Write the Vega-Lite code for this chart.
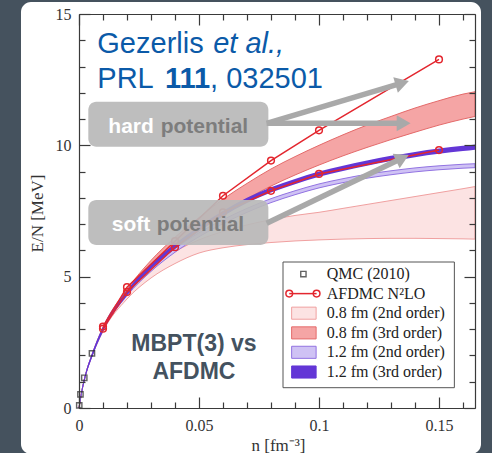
{
"$schema": "https://vega.github.io/schema/vega-lite/v6.json",
"width": 396, "height": 394,
"autosize": "none",
"padding": {"left": 79, "top": 14, "right": 17, "bottom": 45},
"background": "#45525e",
"config": {"view": {"stroke": null}, "axis": {"grid": false}},
"resolve": {"axis": {"x": "independent", "y": "independent"}},
"datasets": {
 "panel": [{"n1": -0.02417, "n2": 0.1675, "e1": 15.456, "e2": -1.75}],
 "b082": [
  {"n": 0, "lo": 0, "hi": 0}, {"n": 0.001, "lo": 0.55, "hi": 0.55}, {"n": 0.003, "lo": 1.33, "hi": 1.35},
  {"n": 0.005, "lo": 1.87, "hi": 1.9}, {"n": 0.01, "lo": 2.92, "hi": 3.0}, {"n": 0.02, "lo": 4.15, "hi": 4.35},
  {"n": 0.03, "lo": 4.95, "hi": 5.3}, {"n": 0.04, "lo": 5.5, "hi": 5.95}, {"n": 0.05, "lo": 5.9, "hi": 6.4},
  {"n": 0.06, "lo": 6.1, "hi": 6.72}, {"n": 0.07, "lo": 6.22, "hi": 6.97}, {"n": 0.08, "lo": 6.3, "hi": 7.17},
  {"n": 0.09, "lo": 6.36, "hi": 7.33}, {"n": 0.1, "lo": 6.4, "hi": 7.45}, {"n": 0.11, "lo": 6.43, "hi": 7.6},
  {"n": 0.12, "lo": 6.45, "hi": 7.75}, {"n": 0.13, "lo": 6.46, "hi": 7.9}, {"n": 0.14, "lo": 6.46, "hi": 8.05},
  {"n": 0.15, "lo": 6.45, "hi": 8.2}, {"n": 0.16, "lo": 6.44, "hi": 8.35}, {"n": 0.165, "lo": 6.43, "hi": 8.43}],
 "b083": [
  {"n": 0, "lo": 0, "hi": 0}, {"n": 0.001, "lo": 0.55, "hi": 0.56}, {"n": 0.003, "lo": 1.35, "hi": 1.37},
  {"n": 0.005, "lo": 1.9, "hi": 1.93}, {"n": 0.01, "lo": 3.0, "hi": 3.08}, {"n": 0.02, "lo": 4.38, "hi": 4.52},
  {"n": 0.03, "lo": 5.4, "hi": 5.62}, {"n": 0.04, "lo": 6.2, "hi": 6.5}, {"n": 0.05, "lo": 6.85, "hi": 7.25},
  {"n": 0.06, "lo": 7.45, "hi": 7.95}, {"n": 0.07, "lo": 7.97, "hi": 8.55}, {"n": 0.08, "lo": 8.45, "hi": 9.1},
  {"n": 0.09, "lo": 8.87, "hi": 9.57}, {"n": 0.1, "lo": 9.25, "hi": 10.0}, {"n": 0.11, "lo": 9.6, "hi": 10.4},
  {"n": 0.12, "lo": 9.92, "hi": 10.77}, {"n": 0.13, "lo": 10.22, "hi": 11.1}, {"n": 0.14, "lo": 10.5, "hi": 11.42},
  {"n": 0.15, "lo": 10.77, "hi": 11.7}, {"n": 0.16, "lo": 11.0, "hi": 11.95}, {"n": 0.165, "lo": 11.1, "hi": 12.04}],
 "b122": [
  {"n": 0, "lo": 0, "hi": 0}, {"n": 0.001, "lo": 0.55, "hi": 0.56}, {"n": 0.003, "lo": 1.34, "hi": 1.36},
  {"n": 0.005, "lo": 1.89, "hi": 1.91}, {"n": 0.01, "lo": 2.98, "hi": 3.04}, {"n": 0.02, "lo": 4.28, "hi": 4.38},
  {"n": 0.03, "lo": 5.2, "hi": 5.32}, {"n": 0.04, "lo": 5.93, "hi": 6.07}, {"n": 0.05, "lo": 6.52, "hi": 6.67},
  {"n": 0.06, "lo": 7.02, "hi": 7.17}, {"n": 0.07, "lo": 7.45, "hi": 7.6}, {"n": 0.08, "lo": 7.82, "hi": 7.97},
  {"n": 0.09, "lo": 8.12, "hi": 8.27}, {"n": 0.1, "lo": 8.38, "hi": 8.53}, {"n": 0.11, "lo": 8.58, "hi": 8.73},
  {"n": 0.12, "lo": 8.75, "hi": 8.9}, {"n": 0.13, "lo": 8.88, "hi": 9.03}, {"n": 0.14, "lo": 8.99, "hi": 9.14},
  {"n": 0.15, "lo": 9.07, "hi": 9.22}, {"n": 0.16, "lo": 9.13, "hi": 9.28}, {"n": 0.165, "lo": 9.15, "hi": 9.3}],
 "b123": [
  {"n": 0, "lo": 0, "hi": 0}, {"n": 0.001, "lo": 0.5, "hi": 0.6}, {"n": 0.003, "lo": 1.28, "hi": 1.42},
  {"n": 0.005, "lo": 1.82, "hi": 1.98}, {"n": 0.01, "lo": 2.9, "hi": 3.1}, {"n": 0.02, "lo": 4.28, "hi": 4.48},
  {"n": 0.03, "lo": 5.3, "hi": 5.5}, {"n": 0.04, "lo": 6.05, "hi": 6.25}, {"n": 0.05, "lo": 6.72, "hi": 6.92},
  {"n": 0.06, "lo": 7.3, "hi": 7.5}, {"n": 0.07, "lo": 7.8, "hi": 8.0}, {"n": 0.08, "lo": 8.2, "hi": 8.4},
  {"n": 0.09, "lo": 8.52, "hi": 8.72}, {"n": 0.1, "lo": 8.8, "hi": 9.0}, {"n": 0.11, "lo": 9.02, "hi": 9.22},
  {"n": 0.12, "lo": 9.22, "hi": 9.42}, {"n": 0.13, "lo": 9.4, "hi": 9.6}, {"n": 0.14, "lo": 9.55, "hi": 9.75},
  {"n": 0.15, "lo": 9.68, "hi": 9.88}, {"n": 0.16, "lo": 9.78, "hi": 9.98}, {"n": 0.165, "lo": 9.83, "hi": 10.03}],
 "afdmc": [
  {"pot": "hard", "n": 0.01, "e": 3.1}, {"pot": "hard", "n": 0.02, "e": 4.6}, {"pot": "hard", "n": 0.04, "e": 6.35},
  {"pot": "hard", "n": 0.06, "e": 8.08}, {"pot": "hard", "n": 0.08, "e": 9.42}, {"pot": "hard", "n": 0.1, "e": 10.57},
  {"pot": "hard", "n": 0.15, "e": 13.27},
  {"pot": "soft", "n": 0.01, "e": 3.02}, {"pot": "soft", "n": 0.02, "e": 4.42}, {"pot": "soft", "n": 0.04, "e": 6.12},
  {"pot": "soft", "n": 0.06, "e": 7.45}, {"pot": "soft", "n": 0.08, "e": 8.27}, {"pot": "soft", "n": 0.1, "e": 8.91},
  {"pot": "soft", "n": 0.15, "e": 9.82}],
 "qmc": [{"n": 0.0001, "e": 0.1}, {"n": 0.0006, "e": 0.52}, {"n": 0.0022, "e": 1.15}, {"n": 0.0054, "e": 2.08}],
 "boxes": [{"name": "hard", "n1": 0.00388, "n2": 0.0789, "e1": 11.66, "e2": 9.948},
           {"name": "soft", "n1": 0.00388, "n2": 0.0789, "e1": 7.918, "e2": 6.205}],
 "arrows": [{"arrow": "a1", "n": 0.0782, "e": 10.84}, {"arrow": "a1", "n": 0.13375, "e": 12.346},
            {"arrow": "a2", "n": 0.0782, "e": 10.84}, {"arrow": "a2", "n": 0.1343, "e": 10.839},
            {"arrow": "a3", "n": 0.0782, "e": 7.03}, {"arrow": "a3", "n": 0.1339, "e": 9.48}],
 "heads": [{"arrow": "a1", "n": 0.13375, "e": 12.346}, {"arrow": "a2", "n": 0.1343, "e": 10.839}, {"arrow": "a3", "n": 0.1339, "e": 9.48}],
 "blueReg": [{"t": "Gezerlis", "n": 0.00763, "e": 13.504},
             {"t": "PRL", "n": 0.00763, "e": 12.171}, {"t": ", 032501", "n": 0.0546, "e": 12.171}],
 "blueIt": [{"t": "et al.,", "n": 0.0559, "e": 13.504}],
 "blueBold": [{"t": "111", "n": 0.0358, "e": 12.171}],
 "boxWhite": [{"t": "hard", "n": 0.01221, "e": 10.46}, {"t": "soft", "n": 0.01363, "e": 6.74}],
 "boxGray": [{"t": "potential", "n": 0.03404, "e": 10.46}, {"t": "potential", "n": 0.03238, "e": 6.74}],
 "mbpt": [{"t": "MBPT(3) vs", "n": 0.0479, "e": 2.18}, {"t": "AFDMC", "n": 0.0479, "e": 1.09}],
 "legBox": [{"n1": 0.085, "n2": 0.1564, "e1": 5.558, "e2": 0.773}],
 "legText": [{"t": "QMC (2010)", "n": 0.1032, "e": 5.1}, {"t": "AFDMC N²LO", "n": 0.1032, "e": 4.355},
             {"t": "0.8 fm (2nd order)", "n": 0.1032, "e": 3.609}, {"t": "0.8 fm (3rd order)", "n": 0.1032, "e": 2.863},
             {"t": "1.2 fm (2nd order)", "n": 0.1032, "e": 2.117}, {"t": "1.2 fm (3rd order)", "n": 0.1032, "e": 1.371}],
 "legSw": [{"band": "0.8 fm (2nd order)", "n1": 0.0886, "n2": 0.0988, "e1": 3.84, "e2": 3.38},
           {"band": "0.8 fm (3rd order)", "n1": 0.0886, "n2": 0.0988, "e1": 3.09, "e2": 2.63},
           {"band": "1.2 fm (2nd order)", "n1": 0.0886, "n2": 0.0988, "e1": 2.35, "e2": 1.89},
           {"band": "1.2 fm (3rd order)", "n1": 0.0886, "n2": 0.0988, "e1": 1.6, "e2": 1.14}],
 "legAf": [{"n": 0.0876, "e": 4.355}, {"n": 0.099, "e": 4.355}],
 "legQmc": [{"n": 0.0935, "e": 5.1}]
},
"layer": [
 {"data": {"name": "panel"}, "mark": {"type": "rect", "fill": "white", "cornerRadius": 10},
  "encoding": {"x": {"field": "n1", "type": "quantitative", "scale": {"domain": [0, 0.165], "nice": false, "zero": false}, "axis": null},
   "x2": {"field": "n2"},
   "y": {"field": "e1", "type": "quantitative", "scale": {"domain": [0, 15], "nice": false, "zero": false}, "axis": null},
   "y2": {"field": "e2"}}},
 {"data": {"name": "b082"}, "mark": {"type": "area", "fill": "#fce3e3", "stroke": "#f0a0a0", "strokeWidth": 1, "interpolate": "monotone"},
  "encoding": {"x": {"field": "n", "type": "quantitative",
    "axis": {"orient": "bottom", "zindex": 2, "values": [0, 0.05, 0.1, 0.15], "format": "~g", "tickSize": -11, "tickColor": "#3a3a3a", "tickWidth": 1.2, "domain": true, "domainColor": "#3a3a3a", "domainWidth": 1.2,
      "labelFont": "Liberation Serif", "labelFontSize": 16, "labelColor": "#333", "labelPadding": 20, "labelFlush": false, "labelOverlap": false,
      "title": "n [fm⁻³]", "titleFont": "Liberation Serif", "titleFontSize": 17, "titleFontWeight": "normal", "titleColor": "#333",
      "titleX": 199, "titleY": 42, "titleBaseline": "alphabetic"}},
   "y": {"field": "lo", "type": "quantitative", "stack": null,
    "axis": {"orient": "left", "zindex": 2, "values": [0, 5, 10, 15], "tickSize": -11, "tickColor": "#3a3a3a", "tickWidth": 1.2, "domain": true, "domainColor": "#3a3a3a", "domainWidth": 1.2,
      "labelFont": "Liberation Serif", "labelFontSize": 16, "labelColor": "#333", "labelPadding": 19, "labelFlush": false, "labelOverlap": false,
      "title": "E/N [MeV]", "titleFont": "Liberation Serif", "titleFontSize": 17, "titleFontWeight": "normal", "titleColor": "#333",
      "titleX": -42, "titleY": 199, "titleBaseline": "middle", "titleAngle": 270}},
   "y2": {"field": "hi"}}},
 {"data": {"name": "b083"}, "mark": {"type": "area", "fill": "#f5a5a5", "stroke": "#e46a6a", "strokeWidth": 1, "interpolate": "monotone"},
  "encoding": {"x": {"field": "n", "type": "quantitative",
    "axis": {"orient": "bottom", "zindex": 2, "values": [0.01, 0.02, 0.03, 0.04, 0.06, 0.07, 0.08, 0.09, 0.11, 0.12, 0.13, 0.14, 0.16], "tickSize": -6, "tickColor": "#3a3a3a", "tickWidth": 1.2, "domain": false, "labels": false, "title": null}},
   "y": {"field": "lo", "type": "quantitative", "stack": null,
    "axis": {"orient": "left", "zindex": 2, "values": [1, 2, 3, 4, 6, 7, 8, 9, 11, 12, 13, 14], "tickSize": -6, "tickColor": "#3a3a3a", "tickWidth": 1.2, "domain": false, "labels": false, "title": null}},
   "y2": {"field": "hi"}}},
 {"data": {"name": "b122"}, "mark": {"type": "area", "fill": "#cfc2f4", "stroke": "#9273e2", "strokeWidth": 1, "interpolate": "monotone"},
  "encoding": {"x": {"field": "n", "type": "quantitative",
    "axis": {"orient": "top", "zindex": 2, "values": [0, 0.05, 0.1, 0.15], "tickSize": -11, "tickColor": "#3a3a3a", "tickWidth": 1.2, "domain": true, "domainColor": "#3a3a3a", "domainWidth": 1.2, "labels": false, "title": null}},
   "y": {"field": "lo", "type": "quantitative", "stack": null,
    "axis": {"orient": "right", "zindex": 2, "values": [0, 5, 10, 15], "tickSize": -11, "tickColor": "#3a3a3a", "tickWidth": 1.2, "domain": true, "domainColor": "#3a3a3a", "domainWidth": 1.2, "labels": false, "title": null}},
   "y2": {"field": "hi"}}},
 {"data": {"name": "b123"}, "mark": {"type": "area", "fill": "#6336d6", "interpolate": "monotone"},
  "encoding": {"x": {"field": "n", "type": "quantitative",
    "axis": {"orient": "top", "zindex": 2, "values": [0.01, 0.02, 0.03, 0.04, 0.06, 0.07, 0.08, 0.09, 0.11, 0.12, 0.13, 0.14, 0.16], "tickSize": -6, "tickColor": "#3a3a3a", "tickWidth": 1.2, "domain": false, "labels": false, "title": null}},
   "y": {"field": "lo", "type": "quantitative", "stack": null,
    "axis": {"orient": "right", "zindex": 2, "values": [1, 2, 3, 4, 6, 7, 8, 9, 11, 12, 13, 14], "tickSize": -6, "tickColor": "#3a3a3a", "tickWidth": 1.2, "domain": false, "labels": false, "title": null}},
   "y2": {"field": "hi"}}},
 {"data": {"name": "afdmc"}, "mark": {"type": "line", "color": "#e3262e", "strokeWidth": 1.5, "point": {"filled": false, "size": 45, "strokeWidth": 1.5, "color": "#e3262e"}},
  "encoding": {"x": {"field": "n", "type": "quantitative", "axis": null}, "y": {"field": "e", "type": "quantitative", "axis": null}, "detail": {"field": "pot"}}},
 {"data": {"name": "qmc"}, "mark": {"type": "point", "shape": "square", "filled": false, "size": 28, "strokeWidth": 1.4, "color": "#222"},
  "encoding": {"x": {"field": "n", "type": "quantitative", "axis": null}, "y": {"field": "e", "type": "quantitative", "axis": null}}},
 {"data": {"name": "boxes"}, "mark": {"type": "rect", "fill": "#b9b9b9", "opacity": 0.92, "cornerRadius": 8},
  "encoding": {"x": {"field": "n1", "type": "quantitative", "axis": null}, "x2": {"field": "n2"}, "y": {"field": "e1", "type": "quantitative", "axis": null}, "y2": {"field": "e2"}}},
 {"data": {"name": "arrows"}, "mark": {"type": "line", "color": "#a9a9a9", "strokeWidth": 5.5, "strokeCap": "butt"},
  "encoding": {"x": {"field": "n", "type": "quantitative", "axis": null}, "y": {"field": "e", "type": "quantitative", "axis": null}, "detail": {"field": "arrow"}}},
 {"data": {"name": "heads"}, "transform": [{"filter": "datum.arrow == 'a1'"}],
  "mark": {"type": "point", "shape": "triangle", "filled": true, "size": 256, "angle": 73.4, "color": "#a9a9a9", "opacity": 1},
  "encoding": {"x": {"field": "n", "type": "quantitative", "axis": null}, "y": {"field": "e", "type": "quantitative", "axis": null}}},
 {"data": {"name": "heads"}, "transform": [{"filter": "datum.arrow == 'a2'"}],
  "mark": {"type": "point", "shape": "triangle", "filled": true, "size": 256, "angle": 90, "color": "#a9a9a9", "opacity": 1},
  "encoding": {"x": {"field": "n", "type": "quantitative", "axis": null}, "y": {"field": "e", "type": "quantitative", "axis": null}}},
 {"data": {"name": "heads"}, "transform": [{"filter": "datum.arrow == 'a3'"}],
  "mark": {"type": "point", "shape": "triangle", "filled": true, "size": 256, "angle": 64.3, "color": "#a9a9a9", "opacity": 1},
  "encoding": {"x": {"field": "n", "type": "quantitative", "axis": null}, "y": {"field": "e", "type": "quantitative", "axis": null}}},
 {"data": {"name": "blueReg"}, "mark": {"type": "text", "font": "Liberation Sans", "fontSize": 29, "color": "#0b5aa8", "align": "left", "baseline": "alphabetic"},
  "encoding": {"x": {"field": "n", "type": "quantitative", "axis": null}, "y": {"field": "e", "type": "quantitative", "axis": null}, "text": {"field": "t"}}},
 {"data": {"name": "blueIt"}, "mark": {"type": "text", "font": "Liberation Sans", "fontSize": 29, "fontStyle": "italic", "color": "#0b5aa8", "align": "left", "baseline": "alphabetic"},
  "encoding": {"x": {"field": "n", "type": "quantitative", "axis": null}, "y": {"field": "e", "type": "quantitative", "axis": null}, "text": {"field": "t"}}},
 {"data": {"name": "blueBold"}, "mark": {"type": "text", "font": "Liberation Sans", "fontSize": 29, "fontWeight": "bold", "color": "#0b5aa8", "align": "left", "baseline": "alphabetic"},
  "encoding": {"x": {"field": "n", "type": "quantitative", "axis": null}, "y": {"field": "e", "type": "quantitative", "axis": null}, "text": {"field": "t"}}},
 {"data": {"name": "boxWhite"}, "mark": {"type": "text", "font": "Liberation Sans", "fontSize": 21, "fontWeight": "bold", "color": "#ffffff", "align": "left", "baseline": "alphabetic"},
  "encoding": {"x": {"field": "n", "type": "quantitative", "axis": null}, "y": {"field": "e", "type": "quantitative", "axis": null}, "text": {"field": "t"}}},
 {"data": {"name": "boxGray"}, "mark": {"type": "text", "font": "Liberation Sans", "fontSize": 21, "fontWeight": "bold", "color": "#7d7d7d", "align": "left", "baseline": "alphabetic"},
  "encoding": {"x": {"field": "n", "type": "quantitative", "axis": null}, "y": {"field": "e", "type": "quantitative", "axis": null}, "text": {"field": "t"}}},
 {"data": {"name": "legBox"}, "mark": {"type": "rect", "fill": "white", "stroke": "#555", "strokeWidth": 1},
  "encoding": {"x": {"field": "n1", "type": "quantitative", "axis": null}, "x2": {"field": "n2"}, "y": {"field": "e1", "type": "quantitative", "axis": null}, "y2": {"field": "e2"}}},
 {"data": {"name": "legSw"}, "mark": {"type": "rect", "strokeWidth": 1},
  "encoding": {"x": {"field": "n1", "type": "quantitative", "axis": null}, "x2": {"field": "n2"}, "y": {"field": "e1", "type": "quantitative", "axis": null}, "y2": {"field": "e2"},
   "fill": {"field": "band", "type": "nominal", "legend": null, "scale": {"domain": ["0.8 fm (2nd order)", "0.8 fm (3rd order)", "1.2 fm (2nd order)", "1.2 fm (3rd order)"], "range": ["#fce3e3", "#f5a5a5", "#cfc2f4", "#6336d6"]}},
   "stroke": {"field": "band", "type": "nominal", "legend": null, "scale": {"domain": ["0.8 fm (2nd order)", "0.8 fm (3rd order)", "1.2 fm (2nd order)", "1.2 fm (3rd order)"], "range": ["#f0a0a0", "#e46a6a", "#9273e2", "#6336d6"]}}}},
 {"data": {"name": "legAf"}, "mark": {"type": "line", "color": "#e3262e", "strokeWidth": 1.5, "point": {"filled": false, "size": 45, "strokeWidth": 1.5, "color": "#e3262e"}},
  "encoding": {"x": {"field": "n", "type": "quantitative", "axis": null}, "y": {"field": "e", "type": "quantitative", "axis": null}}},
 {"data": {"name": "legQmc"}, "mark": {"type": "point", "shape": "square", "filled": false, "size": 28, "strokeWidth": 1.4, "color": "#222"},
  "encoding": {"x": {"field": "n", "type": "quantitative", "axis": null}, "y": {"field": "e", "type": "quantitative", "axis": null}}},
 {"data": {"name": "legText"}, "mark": {"type": "text", "font": "Liberation Serif", "fontSize": 16, "color": "#222", "align": "left", "baseline": "middle"},
  "encoding": {"x": {"field": "n", "type": "quantitative", "axis": null}, "y": {"field": "e", "type": "quantitative", "axis": null}, "text": {"field": "t"}}},
 {"data": {"name": "mbpt"}, "mark": {"type": "text", "font": "Liberation Sans", "fontSize": 23, "fontWeight": "bold", "color": "#44525f", "align": "center", "baseline": "alphabetic"},
  "encoding": {"x": {"field": "n", "type": "quantitative", "axis": null}, "y": {"field": "e", "type": "quantitative", "axis": null}, "text": {"field": "t"}}}
]
}
